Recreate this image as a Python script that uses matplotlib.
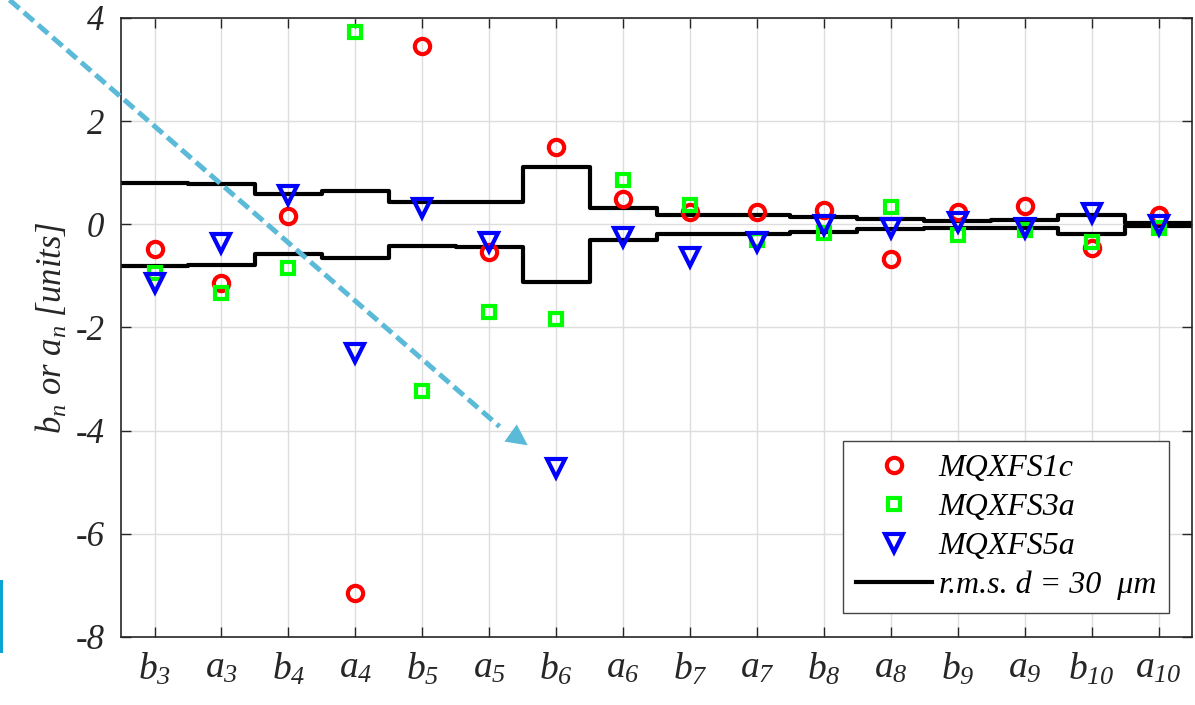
import numpy as np
import matplotlib
matplotlib.use('Agg')
import matplotlib.pyplot as plt
from matplotlib.lines import Line2D
from matplotlib.patches import FancyArrowPatch, Rectangle
from matplotlib.font_manager import FontProperties

# harmonics on the x axis
harmonics = ['b_{3}', 'a_{3}', 'b_{4}', 'a_{4}', 'b_{5}', 'a_{5}', 'b_{6}', 'a_{6}',
             'b_{7}', 'a_{7}', 'b_{8}', 'a_{8}', 'b_{9}', 'a_{9}', 'b_{10}', 'a_{10}']

# measured field errors [units]
mqxfs1c = [-0.47, -1.13, 0.16, -7.15, 3.46, -0.54, 1.50, 0.49,
           0.24, 0.24, 0.28, -0.67, 0.24, 0.35, -0.46, 0.18]
mqxfs3a = [-0.95, -1.33, -0.85, 3.72, -3.23, -1.70, -1.84, 0.86,
           0.37, -0.30, -0.17, 0.34, -0.21, -0.12, -0.34, -0.07]
mqxfs5a = [-1.14, -0.36, 0.57, -2.49, 0.32, -0.34, -4.72, -0.24,
           -0.63, -0.34, -0.01, -0.07, 0.05, -0.07, 0.22, -0.01]

# r.m.s. expected from 30 um random displacement
rms30 = [0.81, 0.79, 0.58, 0.65, 0.43, 0.44, 1.12, 0.31,
         0.19, 0.18, 0.14, 0.10, 0.07, 0.08, 0.19, 0.03]

SERIF = 'Liberation Serif'
plt.rcParams['font.family'] = [SERIF]
plt.rcParams['font.style'] = 'italic'
plt.rcParams['mathtext.fontset'] = 'custom'
plt.rcParams['mathtext.it'] = SERIF + ':italic'
plt.rcParams['mathtext.rm'] = SERIF + ':italic'
plt.rcParams['axes.unicode_minus'] = False

def tfont(size):
    return FontProperties(family=SERIF, style='italic', size=size)

axcol = '#262626'

fig = plt.figure(figsize=(11.95, 7.05), dpi=100)
ax = fig.add_axes([0.1013, 0.0965, 0.8962, 0.878])

x = np.arange(1, len(harmonics) + 1)
edges = np.arange(0.5, len(harmonics) + 1.5)
up = np.append(rms30, rms30[-1])

ax.step(edges, up, where='post', color='k', lw=3.0, zorder=2,
        label=r'r.m.s. d = 30  μm')
ax.step(edges, -up, where='post', color='k', lw=3.0, zorder=2)

ax.plot(x, mqxfs1c, 'o', ls='none', mfc='none', mec='r', ms=11, mew=3.0,
        zorder=3, label='MQXFS1c')
ax.plot(x, mqxfs3a, 's', ls='none', mfc='none', mec=(0, 1, 0), ms=8, mew=3.0,
        zorder=3, label='MQXFS3a')
ax.plot(x, mqxfs5a, 'v', ls='none', mfc='none', mec='b', ms=13, mew=3.0,
        zorder=3, label='MQXFS5a')

ax.set_xlim(0.5, 16.5)
ax.set_ylim(-8, 4)
ax.tick_params(direction='in', length=7, width=1, color=axcol,
               top=True, right=True, labelcolor=axcol)
ax.tick_params(axis='x', pad=10)
ax.tick_params(axis='y', pad=12)
ax.set_xticks(x)
ax.set_xticklabels(['$' + h + '$' for h in harmonics], fontsize=27)
ax.set_yticks(np.arange(-8, 5, 2))
ax.set_yticklabels([str(v) for v in range(-8, 5, 2)], fontproperties=tfont(25))
for s in ax.spines.values():
    s.set_color(axcol)
    s.set_linewidth(1.2)
ax.grid(True, color='#dddddd', lw=1.0)
ax.set_axisbelow(True)

ax.set_ylabel(r'$b_{n}$ or $a_{n}$ [units]', fontproperties=tfont(25),
              color=axcol, labelpad=4)

# legend order: markers first, line last
h, l = ax.get_legend_handles_labels()
order = [1, 2, 3, 0]
leg = ax.legend([h[i] for i in order], [l[i] for i in order],
                loc='lower right', bbox_to_anchor=(0.9785, 0.0388),
                borderaxespad=0, numpoints=1, handlelength=2.4,
                prop=tfont(23), handletextpad=0.2, labelspacing=0.3,
                fancybox=False, framealpha=1, edgecolor='#444444',
                borderpad=0.4)
leg.get_frame().set_linewidth(1.0)

# dashed pointer arrow drawn over the slide
acol = '#5bbad8'
fig.add_artist(Line2D([0.008, 0.418], [1.0, 0.395], transform=fig.transFigure,
                      color=acol, lw=3.6, dashes=(2.6, 1.2), zorder=10))
fig.add_artist(FancyArrowPatch((0.41, 0.407), (0.4435, 0.366),
                               transform=fig.transFigure, arrowstyle='-|>',
                               mutation_scale=38, color=acol, lw=0, zorder=10))
# edge of a slide graphic at the left border
fig.add_artist(Rectangle((0, 1 - 653 / 705), 2.5 / 1195, 73 / 705,
                         transform=fig.transFigure, color='#0aa3d3', lw=0))

fig.savefig('out.png', dpi=100)
